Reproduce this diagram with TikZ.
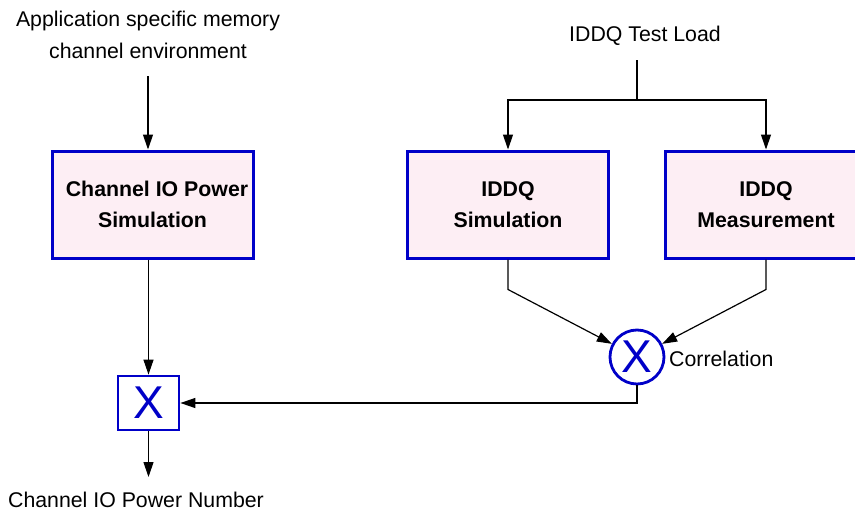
\documentclass[tikz,border=0pt]{standalone}
\usepackage{fontspec}
\setmainfont{Liberation Sans}
\usetikzlibrary{arrows.meta,positioning,calc}
\definecolor{boxblue}{HTML}{0000C8}
\definecolor{boxfill}{HTML}{FDEEF4}
\begin{document}
\begin{tikzpicture}[x=1pt,y=-1pt,
  lbl/.style={font=\fontsize{21.3}{32}\selectfont, align=center, inner sep=0pt},
  procbox/.style={draw=boxblue, line width=3pt, fill=boxfill, minimum width=201pt, minimum height=107pt,
    font=\fontsize{21.3}{31}\selectfont\bfseries, align=center, inner sep=0pt},
  mulbox/.style={draw=boxblue, line width=2.8pt, fill=white, minimum width=61pt, minimum height=54pt,
    font=\fontsize{46}{46}\selectfont, text=boxblue, inner sep=0pt},
  mulcirc/.style={circle, draw=boxblue, line width=2.8pt, fill=white, minimum size=54pt,
    font=\fontsize{46}{46}\selectfont, text=boxblue, inner sep=0pt},
  conn/.style={line width=1.2pt, black},
  arr/.style={conn, -{Triangle[length=15pt,width=10pt]}}
]
\useasboundingbox (0,0) rectangle (855,514);
\clip (0,0) rectangle (855,514);

\node[lbl] (app) at (148,35) {Application specific memory\\channel environment};
\node[lbl] (load) at (645,36) {IDDQ Test Load};
\coordinate (append) at (148,76);
\coordinate (loadtop) at (637,60);
\coordinate (split) at (637,100);

\node[procbox] (cio) at (152.5,204.5) {\hspace*{9pt}Channel IO Power\\Simulation};
\node[procbox] (sim) at (508,204.5) {IDDQ\\Simulation};
\node[procbox] (meas) at (766,204.5) {IDDQ\\Measurement};

\node[mulcirc] (corr) at (637,357) {X};
\node[lbl, anchor=west] (corrlbl) at (669,359) {Correlation};

\node[mulbox] (mult) at (148.5,403) {X};
\coordinate (outend) at (148.5,477);
\node[lbl] (out) at (136,500) {Channel IO Power Number};

% connectors
\draw[arr] (append) -- (append |- cio.north);
\draw[conn] (loadtop) -- (split);
\draw[arr] (split) -| (sim.north);
\draw[arr] (split) -| (meas.north);
\coordinate (simbend) at ($(sim.south)+(0,30)$);
\coordinate (measbend) at ($(meas.south)+(0,30)$);
\draw[arr] (sim.south) -- (simbend) -- (corr);
\draw[arr] (meas.south) -- (measbend) -- (corr);
\draw[arr] (mult.north |- cio.south) -- (mult.north);
\draw[arr] (corr.south) |- (mult.east);
\draw[arr] (mult.south) -- (outend);
\end{tikzpicture}
\end{document}
